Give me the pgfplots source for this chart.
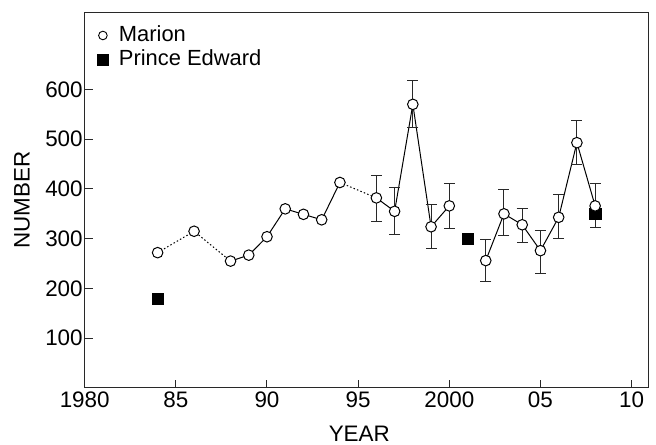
\documentclass[border=0pt]{standalone}
\usepackage{fontspec}
\setmainfont{Liberation Sans}
\usepackage{pgfplots}
\pgfplotsset{compat=1.18}
\usepackage{pgfplotstable}
\pgfplotstableread{
x y
1984 272
1986 315
1988 255
}\dotA
\pgfplotstableread{
x y
1988 255
1989 267
1990 304
1991 360
1992 349
1993 338
1994 413
}\solB
\pgfplotstableread{
x y
1994 413
1996 382
}\dotC
\pgfplotstableread{
x y ep em
1996 382 46 48
1997 355 47 47
1998 570 47 47
1999 324 44 44
2000 366 44 45
}\solD
\pgfplotstableread{
x y ep em
2002 256 43 41
2003 350 48 43
2004 328 32 35
2005 276 40 45
2006 343 45 43
2007 493 45 44
2008 366 44 44
}\solE
\pgfplotstableread{
x y
1984 272
1986 315
1988 255
1989 267
1990 304
1991 360
1992 349
1993 338
1994 413
1996 382
1997 355
1998 570
1999 324
2000 366
2002 256
2003 350
2004 328
2005 276
2006 343
2007 493
2008 366
}\marion
\pgfplotstableread{
x y
1984 180
2001 300
2008 350
}\prince
\definecolor{axgray}{RGB}{40,40,40}
\begin{document}
\begin{tikzpicture}
\begin{axis}[
  name=ax,
  scale only axis,
  width=563.3bp, height=375.7bp,
  xmin=1980, xmax=2010.9,
  ymin=0, ymax=755,
  xtick={1980,1985,1990,1995,2000,2005,2010},
  xticklabels={1980,85,90,95,2000,05,10},
  ytick={100,200,300,400,500,600},
  tick pos=left,
  tick align=inside,
  major tick length=8.3bp,
  axis line style={axgray, line width=1bp},
  every tick/.style={axgray, line width=1bp},
  /pgf/number format/assume math mode=true,
  tick label style={font=\fontsize{22.5}{27}\selectfont},
  yticklabel style={xshift=1.5bp},
  xlabel={YEAR}, ylabel={NUMBER},
  label style={font=\fontsize{22.5}{27}\selectfont},
  xlabel style={at={(axis description cs:0.4875,-0.1206)}, anchor=center},
  ylabel style={at={(axis description cs:-0.1113,0.5)}, anchor=center},
  legend style={at={(axis description cs:0,1)}, anchor=north west,
    xshift=12bp, yshift=-11bp,
    draw=none, fill=none, inner sep=0pt, row sep=0pt, column sep=8bp,
    font=\fontsize{22}{26}\selectfont,
    nodes={inner sep=2bp, text height=16bp, text depth=4bp}},
  legend cell align=left,
]
\addlegendimage{legend image code/.code={\path[draw=none,fill=none] (-6bp,-6bp) rectangle (6bp,6bp); \draw[black, fill=white, line width=0.9bp] (0bp,0bp) circle (4.3bp);}}
\addlegendentry{Marion}
\addlegendimage{legend image code/.code={\path[draw=none,fill=none] (-6bp,-6bp) rectangle (6bp,6bp); \fill[black] (-5.6bp,-5.6bp) rectangle (5.6bp,5.6bp);}}
\addlegendentry{Prince Edward}

\addplot[forget plot, black, line width=1bp, dash pattern=on 1.5bp off 2.2bp] table[x=x,y=y] {\dotA};
\addplot[forget plot, black, line width=1bp] table[x=x,y=y] {\solB};
\addplot[forget plot, black, line width=1bp, dash pattern=on 1.5bp off 2.2bp] table[x=x,y=y] {\dotC};
\addplot[forget plot, black, line width=1bp,
  error bars/.cd, y dir=both, y explicit,
  error bar style={axgray, line width=1bp},
  error mark options={rotate=90, axgray, mark size=5.5bp, line width=1bp}]
  table[x=x,y=y,y error plus=ep,y error minus=em] {\solD};
\addplot[forget plot, black, line width=1bp,
  error bars/.cd, y dir=both, y explicit,
  error bar style={axgray, line width=1bp},
  error mark options={rotate=90, axgray, mark size=5.5bp, line width=1bp}]
  table[x=x,y=y,y error plus=ep,y error minus=em] {\solE};
\addplot[forget plot, only marks, mark=square*, mark size=5.7bp, black] table[x=x,y=y] {\prince};
\addplot[forget plot, only marks, mark=*, mark size=5.3bp, mark options={fill=white, draw=black, line width=1bp}] table[x=x,y=y] {\marion};
\end{axis}
\path ([xshift=-84.7bp,yshift=-56bp]ax.south west) ([xshift=8bp,yshift=12.3bp]ax.north east);
\end{tikzpicture}
\end{document}
